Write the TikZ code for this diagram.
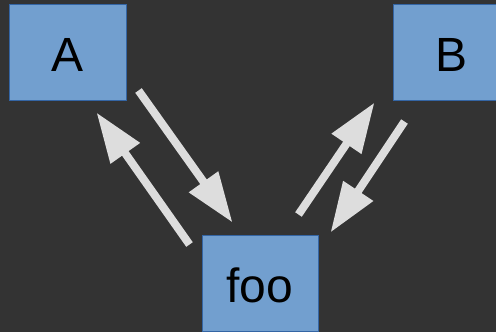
\documentclass[tikz,border=0pt]{standalone}
\usepackage{fontspec}
\setmainfont{Liberation Sans}
\usetikzlibrary{arrows.meta,calc}

\definecolor{canvas}{HTML}{333333}
\definecolor{boxfill}{HTML}{729FCF}
\definecolor{boxline}{HTML}{3465A4}
\definecolor{flow}{HTML}{DDDDDD}

\tikzset{
  block/.style={draw=boxline, fill=boxfill, line width=1bp,
    minimum width=116bp, minimum height=96bp, inner sep=0pt,
    text height=38bp, text depth=0pt,
    font=\fontsize{48bp}{56bp}\selectfont, text=black},
  flowarrow/.style={draw=flow, line width=8bp, line cap=butt,
    -{Triangle[length=50bp,width=34bp]}}
}

\begin{document}
\begin{tikzpicture}[x=1bp, y=-1bp]
  \fill[canvas] (0,0) rectangle (496,332);
  \useasboundingbox (0,0) rectangle (496,332);

  \node[block] (A)   at (68,52)   {A};
  \node[block] (B)   at (451,52)  {B};
  \node[block] (foo) at (260,283) {foo};

  % A <-> foo
  \draw[flowarrow] ($(A.south east)+(12,-10)$) -- ($(foo.north west)+(31,-12)$);
  \draw[flowarrow] ($(foo.north west)+(-12,10)$) -- ($(A.south east)+(-30,12)$);

  % foo <-> B
  \draw[flowarrow] ($(foo.north east)+(-20,-20)$) -- ($(B.south west)+(-18,2)$);
  \draw[flowarrow] ($(B.south west)+(12,21)$) -- ($(foo.north east)+(12,-2)$);
\end{tikzpicture}
\end{document}
